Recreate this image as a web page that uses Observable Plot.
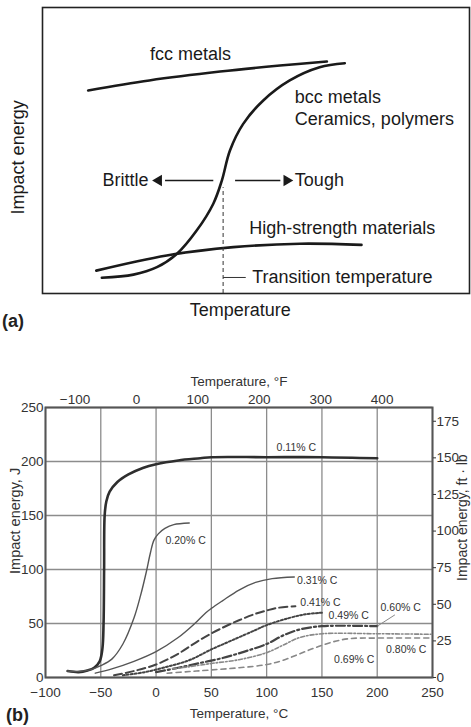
<!DOCTYPE html>
<html><head><meta charset="utf-8">
<script src="https://cdn.jsdelivr.net/npm/d3@7"></script>
<script src="https://cdn.jsdelivr.net/npm/@observablehq/plot@0.6"></script>
<style>
body{margin:0;background:#fff;font-family:"Liberation Sans",Arial,sans-serif;}
#wrap{position:relative;width:471px;height:727px;overflow:hidden;background:#fff}
#a{position:absolute;left:0;top:0}
#b{position:absolute;left:0;top:355px}
.tag{position:absolute;font-weight:bold;font-size:18px;color:#222;line-height:19px}
</style></head><body>
<div id="wrap"><div id="a"></div><div id="b"></div>
<div class="tag" style="left:2px;top:312px">(a)</div>
<div class="tag" style="left:6px;top:706px">(b)</div>
</div>
<script>
const FONT = '"Liberation Sans", Arial, sans-serif';

// ---------- Panel (a): schematic, arbitrary units 0..100 ----------
const fccCurve = [[10.7,71],[25,74.5],[41.6,77.6],[55.6,79.7],[66.6,81.1]];
const bccCurve = [[13.9,5.5],[21.3,6.6],[26.8,9.2],[31.5,13.9],[36.1,22],[40,31.4],[42,39.5],[43.9,50],[47,59.3],[51.7,67.5],[57.9,74.5],[64.9,79.1],[70.8,80.5]];
const highStrengthCurve = [[12.6,8],[29.1,13.3],[44.7,16.2],[60.3,17.4],[74.7,17]];
const transitionX = 42.3, transitionTop = 37;
const aLabels = ["fcc metals","bcc metals","Ceramics, polymers","Tough","High-strength materials","Transition temperature"];
const aLabelX = [25.2, 59.1, 59.1, 59.1, 48.4, 49.1];
const aLabelY = [83.8, 68.5, 60.8, 39.5, 22.8, 5.6];
const brittle = {text:"Brittle", x:24.8, y:39.5};
const arrowsA = [{x1:40,x2:27.2,y:39.5,rot:-90},{x1:45.1,x2:57.2,y:39.5,rot:90}];

const aLab = aLabels.map((t,i)=>({t, x:aLabelX[i], y:aLabelY[i]}));

const plotA = Plot.plot({
  width:471, height:330, marginTop:7, marginBottom:37, marginLeft:42, marginRight:2,
  x:{domain:[0,100], axis:null}, y:{domain:[0,100], axis:null},
  style:{fontFamily:FONT, background:"transparent", color:"#1a1a1a"},
  marks:[
    Plot.frame({stroke:"#222", strokeWidth:1.6}),
    Plot.line(fccCurve,{x:d=>d[0],y:d=>d[1],curve:"catmull-rom",stroke:"#1a1a1a",strokeWidth:2.6}),
    Plot.line(bccCurve,{x:d=>d[0],y:d=>d[1],curve:"catmull-rom",stroke:"#1a1a1a",strokeWidth:2.6}),
    Plot.line(highStrengthCurve,{x:d=>d[0],y:d=>d[1],curve:"catmull-rom",stroke:"#1a1a1a",strokeWidth:2.6}),
    Plot.ruleX([transitionX],{y1:0,y2:transitionTop,stroke:"#333",strokeWidth:1,strokeDasharray:"4,3"}),
    Plot.link([{x1:transitionX,x2:47.6,y:5.6}],{x1:"x1",x2:"x2",y1:"y",y2:"y",stroke:"#333",strokeWidth:1}),
    Plot.link(arrowsA,{x1:"x1",x2:d=>d.x2 + (d.rot<0?1.5:-1.5),y1:"y",y2:"y",stroke:"#1a1a1a",strokeWidth:1.6}),
    Plot.dot(arrowsA,{x:"x2",y:"y",symbol:"triangle",r:4.2,fill:"#1a1a1a",rotate:"rot"}),
    Plot.text(aLab,{x:"x",y:"y",text:"t",textAnchor:"start",fontSize:18,fill:"#1a1a1a"}),
    Plot.text([brittle],{x:"x",y:"y",text:"text",textAnchor:"end",fontSize:18,fill:"#1a1a1a"}),
    Plot.text(["Temperature"],{x:[46.3],y:[-5.9],text:d=>d,fontSize:18,fill:"#1a1a1a"}),
    Plot.text(["Impact energy"],{x:[-5.6],y:[47.6],text:d=>d,rotate:-90,fontSize:18,fill:"#1a1a1a"})
  ]
});
document.getElementById("a").append(plotA);

// ---------- Panel (b): Charpy impact energy vs temperature ----------
const tempTicksC = [-100,-50,0,50,100,150,200,250];
const tempTicksF = [-100,0,100,200,300,400];
const energyTicksJ = [0,50,100,150,200,250];
const energyTicksFtLb = [0,25,50,75,100,125,150,175];

const c011 = [[-80,6],[-70,5],[-62,6.5],[-56,9],[-51,15],[-48.5,27],[-47.5,50],[-47,100],[-46.5,150],[-45,163],[-42,172],[-35,181],[-25,188],[-12,194],[0,197.5],[20,201],[40,203],[50,204],[100,204],[150,204],[200,203]];
const c020 = [[-80,6],[-70,5.5],[-60,7],[-50,11],[-40,17],[-30,31],[-20,55],[-14,76],[-9,97],[-5,116],[-2,127],[2,133],[8,138],[16,141.5],[30,143]];
const c031 = [[-55,4],[-40,8],[-20,15],[0,24],[20,37],[35,50],[45,60],[50,64],[60,71],[75,81],[90,88],[105,91.5],[125,93]];
const c041 = [[-38,2],[-20,6],[0,12],[20,22],[40,35],[60,46],[75,53],[90,59],[100,62],[110,64.5],[126,66]];
const c049 = [[-30,2],[-10,5],[10,10],[30,16],[50,26],[70,35],[90,44],[100,48.5],[120,55],[135,58.5],[150,60]];
const c060 = [[0,5],[20,9],[40,13.5],[60,18],[80,24],[100,31],[115,39],[130,44.5],[150,47.5],[200,47.5]];
const c069 = [[10,4],[30,5.5],[50,7],[75,9],[100,12],[115,16],[130,22],[145,28],[160,33],[175,36],[200,36.5],[250,36.5]];
const c080 = [[15,8],[30,10],[50,13],[75,16.5],[100,23],[115,30],[130,37],[150,40.5],[200,40.5],[250,40]];

const seriesNames = ["0.11% C","0.20% C","0.31% C","0.41% C","0.49% C","0.60% C","0.69% C","0.80% C"];
const seriesData = [c011,c020,c031,c041,c049,c060,c069,c080];
const labelT = [109, 8.5, 127.5, 130.5, 156, 203, 161, 208];
const labelE = [212.5, 127, 90, 69, 57.5, 64.5, 16.5, 25.5];
const styles = [
  {stroke:"#2e2e2e",w:2.6,dash:null},
  {stroke:"#555",w:1.4,dash:null},
  {stroke:"#555",w:1.4,dash:null},
  {stroke:"#444",w:2,dash:"8,4"},
  {stroke:"#444",w:2,dash:"2,2"},
  {stroke:"#444",w:2.2,dash:"9,3,2,3"},
  {stroke:"#888",w:1.6,dash:"5,4"},
  {stroke:"#888",w:1.6,dash:"4,2,1.5,2"}
];
const JperFtLb = 1.35582;
const fToC = f => (f-32)*5/9;
const fmt = v => (v<0 ? "\u2212" + Math.abs(v) : String(v));

const curveMarks = seriesData.map((d,i)=>Plot.line(d,{x:p=>p[0],y:p=>p[1],curve:"catmull-rom",stroke:styles[i].stroke,strokeWidth:styles[i].w,strokeDasharray:styles[i].dash}));
const bLabels = seriesNames.map((n,i)=>({n,t:labelT[i],e:labelE[i]}));

const plotB = Plot.plot({
  width:471, height:372, marginTop:52, marginBottom:50, marginLeft:45, marginRight:39,
  x:{domain:[-100,250]}, y:{domain:[0,250]},
  style:{fontFamily:FONT, background:"transparent", color:"#333"},
  marks:[
    Plot.gridX(tempTicksC,{stroke:"#8c8c8c",strokeOpacity:1,strokeWidth:1.3}),
    Plot.gridY(energyTicksJ,{stroke:"#8c8c8c",strokeOpacity:1,strokeWidth:1.3}),
    Plot.frame({stroke:"#555",strokeWidth:2}),
    Plot.axisX(tempTicksC,{anchor:"bottom",tickSize:0,tickPadding:10,fontSize:13.5,label:null,tickFormat:fmt}),
    Plot.axisX(tempTicksF.map(fToC),{anchor:"top",tickSize:0,tickPadding:4,fontSize:13.5,label:null,tickFormat:c=>fmt(Math.round(c*9/5+32))}),
    Plot.axisY(energyTicksJ,{anchor:"left",tickSize:0,tickPadding:2,fontSize:13.5,label:null}),
    Plot.axisY(energyTicksFtLb.map(v=>v*JperFtLb),{anchor:"right",tickSize:3,tickPadding:1,fontSize:13.5,label:null,tickFormat:j=>String(Math.round(j/JperFtLb))}),
    ...curveMarks,
    Plot.link([{x1:200,y1:47.5,x2:216,y2:58}],{x1:"x1",y1:"y1",x2:"x2",y2:"y2",stroke:"#888",strokeWidth:1}),
    Plot.text(bLabels,{x:"t",y:"e",text:"n",textAnchor:"start",fontSize:10.5,fill:"#333"}),
    Plot.text(["Temperature, \u00b0C"],{frameAnchor:"bottom",dy:40,text:d=>d,fontSize:13.5,fill:"#333"}),
    Plot.text(["Temperature, \u00b0F"],{frameAnchor:"top",dy:-31,text:d=>d,fontSize:13.5,fill:"#333"}),
    Plot.text(["Impact energy, J"],{x:[-127],y:[145],text:d=>d,rotate:-90,fontSize:14.5,fill:"#333"}),
    Plot.text(["Impact energy, ft \u00b7 lb"],{x:[277],y:[148],text:d=>d,rotate:-90,fontSize:14,fill:"#333"})
  ]
});
document.getElementById("b").append(plotB);
</script>
</body></html>
